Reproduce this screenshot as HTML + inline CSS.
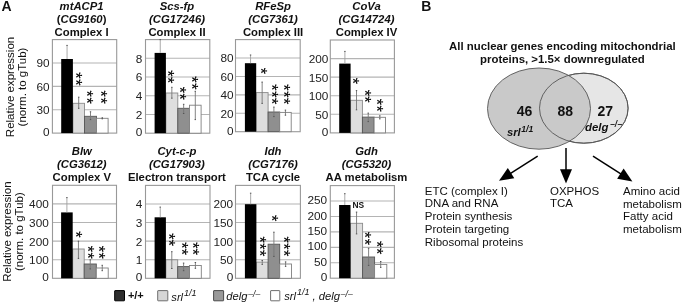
<!DOCTYPE html><html><head><meta charset="utf-8"><style>html,body{margin:0;padding:0;background:#fff;}svg{display:block;filter:grayscale(1);}</style></head><body>
<svg width="685" height="304" viewBox="0 0 685 304" style="font-family:'Liberation Sans', sans-serif">
<rect width="685" height="304" fill="#fff"/>
<text x="1.6" y="11.3" font-size="14" font-weight="bold" fill="#111">A</text>
<text x="421.3" y="11.4" font-size="14" font-weight="bold" fill="#111">B</text>
<text x="81.6" y="10.3" font-size="11.3" font-weight="bold" font-style="italic" text-anchor="middle" fill="#111">mtACP1</text>
<text x="81.6" y="23.4" font-size="11.3" font-weight="bold" text-anchor="middle" fill="#111">(<tspan font-style="italic">CG9160</tspan>)</text>
<text x="81.6" y="36.4" font-size="11.3" font-weight="bold" text-anchor="middle" fill="#111">Complex I</text>
<text x="177" y="10.3" font-size="11.3" font-weight="bold" font-style="italic" text-anchor="middle" fill="#111">Scs-fp</text>
<text x="177" y="23.4" font-size="11.3" font-weight="bold" font-style="italic" text-anchor="middle" fill="#111">(CG17246)</text>
<text x="177" y="36.4" font-size="11.3" font-weight="bold" text-anchor="middle" fill="#111">Complex II</text>
<text x="273.1" y="10.3" font-size="11.3" font-weight="bold" font-style="italic" text-anchor="middle" fill="#111">RFeSp</text>
<text x="273.1" y="23.4" font-size="11.3" font-weight="bold" font-style="italic" text-anchor="middle" fill="#111">(CG7361)</text>
<text x="273.1" y="36.4" font-size="11.3" font-weight="bold" text-anchor="middle" fill="#111">Complex III</text>
<text x="366.5" y="10.3" font-size="11.3" font-weight="bold" font-style="italic" text-anchor="middle" fill="#111">CoVa</text>
<text x="366.5" y="23.4" font-size="11.3" font-weight="bold" font-style="italic" text-anchor="middle" fill="#111">(CG14724)</text>
<text x="366.5" y="36.4" font-size="11.3" font-weight="bold" text-anchor="middle" fill="#111">Complex IV</text>
<text x="81.8" y="154.9" font-size="11.3" font-weight="bold" font-style="italic" text-anchor="middle" fill="#111">Blw</text>
<text x="81.8" y="168" font-size="11.3" font-weight="bold" font-style="italic" text-anchor="middle" fill="#111">(CG3612)</text>
<text x="81.8" y="181.2" font-size="11.3" font-weight="bold" text-anchor="middle" fill="#111">Complex V</text>
<text x="176.9" y="154.9" font-size="11.3" font-weight="bold" font-style="italic" text-anchor="middle" fill="#111">Cyt-c-p</text>
<text x="176.9" y="168" font-size="11.3" font-weight="bold" font-style="italic" text-anchor="middle" fill="#111">(CG17903)</text>
<text x="176.9" y="181.2" font-size="11.3" font-weight="bold" text-anchor="middle" fill="#111">Electron transport</text>
<text x="273" y="154.9" font-size="11.3" font-weight="bold" font-style="italic" text-anchor="middle" fill="#111">Idh</text>
<text x="273" y="168" font-size="11.3" font-weight="bold" font-style="italic" text-anchor="middle" fill="#111">(CG7176)</text>
<text x="273" y="181.2" font-size="11.3" font-weight="bold" text-anchor="middle" fill="#111">TCA cycle</text>
<text x="366.5" y="154.9" font-size="11.3" font-weight="bold" font-style="italic" text-anchor="middle" fill="#111">Gdh</text>
<text x="366.5" y="168" font-size="11.3" font-weight="bold" font-style="italic" text-anchor="middle" fill="#111">(CG5320)</text>
<text x="366.5" y="181.2" font-size="11.3" font-weight="bold" text-anchor="middle" fill="#111">AA metabolism</text>
<text x="13.6" y="87" font-size="11.5" text-anchor="middle" fill="#111" transform="rotate(-90 13.6 87)">Relative expression</text>
<text x="26.2" y="87" font-size="11.5" text-anchor="middle" fill="#111" transform="rotate(-90 26.2 87)">(norm. to gTub)</text>
<text x="10.8" y="231.6" font-size="11.5" text-anchor="middle" fill="#111" transform="rotate(-90 10.8 231.6)">Relative expression</text>
<text x="23.3" y="231.6" font-size="11.5" text-anchor="middle" fill="#111" transform="rotate(-90 23.3 231.6)">(norm. to gTub)</text>
<line x1="52.4" y1="109.72" x2="116.7" y2="109.72" stroke="#b4b4b4" stroke-width="1.1"/>
<line x1="52.4" y1="86.35" x2="116.7" y2="86.35" stroke="#b4b4b4" stroke-width="1.1"/>
<line x1="52.4" y1="62.97" x2="116.7" y2="62.97" stroke="#b4b4b4" stroke-width="1.1"/>
<rect x="52.4" y="39.6" width="64.3" height="93.5" fill="none" stroke="#999" stroke-width="1.1"/>
<rect x="72.9" y="103.3" width="11.6" height="29.8" fill="#dedede" stroke="#8a8a8a" stroke-width="0.9"/>
<rect x="84.5" y="116.3" width="12" height="16.8" fill="#8f8f8f" stroke="#555555" stroke-width="0.9"/>
<rect x="96.5" y="118.3" width="11.6" height="14.8" fill="#ffffff" stroke="#808080" stroke-width="0.9"/>
<rect x="61.2" y="59" width="11.7" height="74.1" fill="#000"/>
<line x1="67.05" y1="45.4" x2="67.05" y2="59" stroke="#a0a0a0" stroke-width="0.9"/>
<line x1="66.35" y1="45.4" x2="67.75" y2="45.4" stroke="#555" stroke-width="1"/>
<line x1="78.7" y1="97.2" x2="78.7" y2="108.3" stroke="#777" stroke-width="0.9"/>
<line x1="78" y1="97.2" x2="79.4" y2="97.2" stroke="#555" stroke-width="1"/>
<line x1="78" y1="108.3" x2="79.4" y2="108.3" stroke="#555" stroke-width="1"/>
<line x1="90.5" y1="111.8" x2="90.5" y2="119.6" stroke="#777" stroke-width="0.9"/>
<line x1="89.8" y1="111.8" x2="91.2" y2="111.8" stroke="#555" stroke-width="1"/>
<line x1="89.8" y1="119.6" x2="91.2" y2="119.6" stroke="#555" stroke-width="1"/>
<line x1="102.3" y1="117.8" x2="102.3" y2="118.8" stroke="#777" stroke-width="0.9"/>
<line x1="101.6" y1="117.8" x2="103" y2="117.8" stroke="#555" stroke-width="1"/>
<line x1="101.6" y1="118.8" x2="103" y2="118.8" stroke="#555" stroke-width="1"/>
<text x="49.6" y="135.95" font-size="11.8" text-anchor="end" fill="#222">0</text>
<text x="49.6" y="114.17" font-size="11.8" text-anchor="end" fill="#222">30</text>
<text x="49.6" y="90.8" font-size="11.8" text-anchor="end" fill="#222">60</text>
<text x="49.6" y="67.42" font-size="11.8" text-anchor="end" fill="#222">90</text>
<text x="75.5" y="-70.48" font-size="16.2" text-anchor="middle" fill="#000" stroke="#000" stroke-width="0.15" transform="rotate(90)">*</text>
<text x="82.4" y="-70.48" font-size="16.2" text-anchor="middle" fill="#000" stroke="#000" stroke-width="0.15" transform="rotate(90)">*</text>
<text x="93.7" y="-81.38" font-size="16.2" text-anchor="middle" fill="#000" stroke="#000" stroke-width="0.15" transform="rotate(90)">*</text>
<text x="100.6" y="-81.38" font-size="16.2" text-anchor="middle" fill="#000" stroke="#000" stroke-width="0.15" transform="rotate(90)">*</text>
<text x="93.7" y="-94.58" font-size="16.2" text-anchor="middle" fill="#000" stroke="#000" stroke-width="0.15" transform="rotate(90)">*</text>
<text x="100.6" y="-94.58" font-size="16.2" text-anchor="middle" fill="#000" stroke="#000" stroke-width="0.15" transform="rotate(90)">*</text>
<line x1="145.5" y1="114.48" x2="209.8" y2="114.48" stroke="#b4b4b4" stroke-width="1.1"/>
<line x1="145.5" y1="95.76" x2="209.8" y2="95.76" stroke="#b4b4b4" stroke-width="1.1"/>
<line x1="145.5" y1="77.04" x2="209.8" y2="77.04" stroke="#b4b4b4" stroke-width="1.1"/>
<line x1="145.5" y1="58.32" x2="209.8" y2="58.32" stroke="#b4b4b4" stroke-width="1.1"/>
<rect x="145.5" y="39.6" width="64.3" height="93.6" fill="none" stroke="#999" stroke-width="1.1"/>
<rect x="165.9" y="93" width="11.9" height="40.2" fill="#dedede" stroke="#8a8a8a" stroke-width="0.9"/>
<rect x="177.8" y="108.3" width="11.7" height="24.9" fill="#8f8f8f" stroke="#555555" stroke-width="0.9"/>
<rect x="189.5" y="105.2" width="11.6" height="28" fill="#ffffff" stroke="#808080" stroke-width="0.9"/>
<rect x="154.6" y="52.9" width="11.3" height="80.3" fill="#000"/>
<line x1="160.25" y1="39.6" x2="160.25" y2="52.9" stroke="#a0a0a0" stroke-width="0.9"/>
<line x1="159.55" y1="39.6" x2="160.95" y2="39.6" stroke="#555" stroke-width="1"/>
<line x1="171.85" y1="87.3" x2="171.85" y2="98.2" stroke="#777" stroke-width="0.9"/>
<line x1="171.15" y1="87.3" x2="172.55" y2="87.3" stroke="#555" stroke-width="1"/>
<line x1="171.15" y1="98.2" x2="172.55" y2="98.2" stroke="#555" stroke-width="1"/>
<line x1="183.65" y1="104.3" x2="183.65" y2="113.5" stroke="#777" stroke-width="0.9"/>
<line x1="182.95" y1="104.3" x2="184.35" y2="104.3" stroke="#555" stroke-width="1"/>
<line x1="182.95" y1="113.5" x2="184.35" y2="113.5" stroke="#555" stroke-width="1"/>
<line x1="195.3" y1="91.3" x2="195.3" y2="119.6" stroke="#777" stroke-width="0.9"/>
<line x1="194.6" y1="91.3" x2="196" y2="91.3" stroke="#555" stroke-width="1"/>
<line x1="194.6" y1="119.6" x2="196" y2="119.6" stroke="#555" stroke-width="1"/>
<text x="142.4" y="136.05" font-size="11.8" text-anchor="end" fill="#222">0</text>
<text x="142.4" y="118.93" font-size="11.8" text-anchor="end" fill="#222">2</text>
<text x="142.4" y="100.21" font-size="11.8" text-anchor="end" fill="#222">4</text>
<text x="142.4" y="81.49" font-size="11.8" text-anchor="end" fill="#222">6</text>
<text x="142.4" y="62.77" font-size="11.8" text-anchor="end" fill="#222">8</text>
<text x="73.5" y="-162.38" font-size="16.2" text-anchor="middle" fill="#000" stroke="#000" stroke-width="0.15" transform="rotate(90)">*</text>
<text x="80.1" y="-162.38" font-size="16.2" text-anchor="middle" fill="#000" stroke="#000" stroke-width="0.15" transform="rotate(90)">*</text>
<text x="89.8" y="-173.68" font-size="16.2" text-anchor="middle" fill="#000" stroke="#000" stroke-width="0.15" transform="rotate(90)">*</text>
<text x="96.7" y="-173.68" font-size="16.2" text-anchor="middle" fill="#000" stroke="#000" stroke-width="0.15" transform="rotate(90)">*</text>
<text x="79.4" y="-185.78" font-size="16.2" text-anchor="middle" fill="#000" stroke="#000" stroke-width="0.15" transform="rotate(90)">*</text>
<text x="86.5" y="-185.78" font-size="16.2" text-anchor="middle" fill="#000" stroke="#000" stroke-width="0.15" transform="rotate(90)">*</text>
<line x1="235.5" y1="113.28" x2="300.2" y2="113.28" stroke="#b4b4b4" stroke-width="1.1"/>
<line x1="235.5" y1="94.86" x2="300.2" y2="94.86" stroke="#b4b4b4" stroke-width="1.1"/>
<line x1="235.5" y1="76.44" x2="300.2" y2="76.44" stroke="#b4b4b4" stroke-width="1.1"/>
<line x1="235.5" y1="58.02" x2="300.2" y2="58.02" stroke="#b4b4b4" stroke-width="1.1"/>
<rect x="235.5" y="39.6" width="64.7" height="92.1" fill="none" stroke="#999" stroke-width="1.1"/>
<rect x="256.2" y="92.6" width="11.9" height="39.1" fill="#dedede" stroke="#8a8a8a" stroke-width="0.9"/>
<rect x="268.1" y="112" width="11.6" height="19.7" fill="#8f8f8f" stroke="#555555" stroke-width="0.9"/>
<rect x="279.7" y="112.4" width="11.5" height="19.3" fill="#ffffff" stroke="#808080" stroke-width="0.9"/>
<rect x="244.9" y="63.2" width="11.3" height="68.5" fill="#000"/>
<line x1="250.55" y1="55" x2="250.55" y2="63.2" stroke="#a0a0a0" stroke-width="0.9"/>
<line x1="249.85" y1="55" x2="251.25" y2="55" stroke="#555" stroke-width="1"/>
<line x1="262.15" y1="82.1" x2="262.15" y2="103.4" stroke="#777" stroke-width="0.9"/>
<line x1="261.45" y1="82.1" x2="262.85" y2="82.1" stroke="#555" stroke-width="1"/>
<line x1="261.45" y1="103.4" x2="262.85" y2="103.4" stroke="#555" stroke-width="1"/>
<line x1="273.9" y1="107.1" x2="273.9" y2="116.6" stroke="#777" stroke-width="0.9"/>
<line x1="273.2" y1="107.1" x2="274.6" y2="107.1" stroke="#555" stroke-width="1"/>
<line x1="273.2" y1="116.6" x2="274.6" y2="116.6" stroke="#555" stroke-width="1"/>
<line x1="285.45" y1="110.1" x2="285.45" y2="115.2" stroke="#777" stroke-width="0.9"/>
<line x1="284.75" y1="110.1" x2="286.15" y2="110.1" stroke="#555" stroke-width="1"/>
<line x1="284.75" y1="115.2" x2="286.15" y2="115.2" stroke="#555" stroke-width="1"/>
<text x="233.6" y="134.55" font-size="11.8" text-anchor="end" fill="#222">0</text>
<text x="233.6" y="117.73" font-size="11.8" text-anchor="end" fill="#222">20</text>
<text x="233.6" y="99.31" font-size="11.8" text-anchor="end" fill="#222">40</text>
<text x="233.6" y="80.89" font-size="11.8" text-anchor="end" fill="#222">60</text>
<text x="233.6" y="62.47" font-size="11.8" text-anchor="end" fill="#222">80</text>
<text x="70.9" y="-254.68" font-size="16.2" text-anchor="middle" fill="#000" stroke="#000" stroke-width="0.15" transform="rotate(90)">*</text>
<text x="87.5" y="-266.08" font-size="16.2" text-anchor="middle" fill="#000" stroke="#000" stroke-width="0.15" transform="rotate(90)">*</text>
<text x="94.4" y="-266.08" font-size="16.2" text-anchor="middle" fill="#000" stroke="#000" stroke-width="0.15" transform="rotate(90)">*</text>
<text x="101.1" y="-266.08" font-size="16.2" text-anchor="middle" fill="#000" stroke="#000" stroke-width="0.15" transform="rotate(90)">*</text>
<text x="87.5" y="-278.28" font-size="16.2" text-anchor="middle" fill="#000" stroke="#000" stroke-width="0.15" transform="rotate(90)">*</text>
<text x="94.4" y="-278.28" font-size="16.2" text-anchor="middle" fill="#000" stroke="#000" stroke-width="0.15" transform="rotate(90)">*</text>
<text x="101.1" y="-278.28" font-size="16.2" text-anchor="middle" fill="#000" stroke="#000" stroke-width="0.15" transform="rotate(90)">*</text>
<line x1="330.3" y1="114.32" x2="394.4" y2="114.32" stroke="#b4b4b4" stroke-width="1.1"/>
<line x1="330.3" y1="95.74" x2="394.4" y2="95.74" stroke="#b4b4b4" stroke-width="1.1"/>
<line x1="330.3" y1="77.16" x2="394.4" y2="77.16" stroke="#b4b4b4" stroke-width="1.1"/>
<line x1="330.3" y1="58.58" x2="394.4" y2="58.58" stroke="#b4b4b4" stroke-width="1.1"/>
<rect x="330.3" y="40" width="64.1" height="92.9" fill="none" stroke="#999" stroke-width="1.1"/>
<rect x="350.6" y="100.3" width="11.8" height="32.6" fill="#dedede" stroke="#8a8a8a" stroke-width="0.9"/>
<rect x="362.4" y="117.1" width="11.7" height="15.8" fill="#8f8f8f" stroke="#555555" stroke-width="0.9"/>
<rect x="374.1" y="117.3" width="11.4" height="15.6" fill="#ffffff" stroke="#808080" stroke-width="0.9"/>
<rect x="339.2" y="63.6" width="11.4" height="69.3" fill="#000"/>
<line x1="344.9" y1="51.4" x2="344.9" y2="63.6" stroke="#a0a0a0" stroke-width="0.9"/>
<line x1="344.2" y1="51.4" x2="345.6" y2="51.4" stroke="#555" stroke-width="1"/>
<line x1="356.5" y1="90.6" x2="356.5" y2="109.8" stroke="#777" stroke-width="0.9"/>
<line x1="355.8" y1="90.6" x2="357.2" y2="90.6" stroke="#555" stroke-width="1"/>
<line x1="355.8" y1="109.8" x2="357.2" y2="109.8" stroke="#555" stroke-width="1"/>
<line x1="368.25" y1="113.1" x2="368.25" y2="121.6" stroke="#777" stroke-width="0.9"/>
<line x1="367.55" y1="113.1" x2="368.95" y2="113.1" stroke="#555" stroke-width="1"/>
<line x1="367.55" y1="121.6" x2="368.95" y2="121.6" stroke="#555" stroke-width="1"/>
<line x1="379.8" y1="115.8" x2="379.8" y2="118.9" stroke="#777" stroke-width="0.9"/>
<line x1="379.1" y1="115.8" x2="380.5" y2="115.8" stroke="#555" stroke-width="1"/>
<line x1="379.1" y1="118.9" x2="380.5" y2="118.9" stroke="#555" stroke-width="1"/>
<text x="328.4" y="135.75" font-size="11.8" text-anchor="end" fill="#222">0</text>
<text x="328.4" y="118.77" font-size="11.8" text-anchor="end" fill="#222">50</text>
<text x="328.4" y="100.19" font-size="11.8" text-anchor="end" fill="#222">100</text>
<text x="328.4" y="81.61" font-size="11.8" text-anchor="end" fill="#222">150</text>
<text x="328.4" y="63.03" font-size="11.8" text-anchor="end" fill="#222">200</text>
<text x="81" y="-347.28" font-size="16.2" text-anchor="middle" fill="#000" stroke="#000" stroke-width="0.15" transform="rotate(90)">*</text>
<text x="92.8" y="-358.88" font-size="16.2" text-anchor="middle" fill="#000" stroke="#000" stroke-width="0.15" transform="rotate(90)">*</text>
<text x="99.3" y="-358.88" font-size="16.2" text-anchor="middle" fill="#000" stroke="#000" stroke-width="0.15" transform="rotate(90)">*</text>
<text x="102" y="-370.68" font-size="16.2" text-anchor="middle" fill="#000" stroke="#000" stroke-width="0.15" transform="rotate(90)">*</text>
<text x="108.6" y="-370.68" font-size="16.2" text-anchor="middle" fill="#000" stroke="#000" stroke-width="0.15" transform="rotate(90)">*</text>
<line x1="52.5" y1="259.7" x2="116.5" y2="259.7" stroke="#b4b4b4" stroke-width="1.1"/>
<line x1="52.5" y1="241.1" x2="116.5" y2="241.1" stroke="#b4b4b4" stroke-width="1.1"/>
<line x1="52.5" y1="222.5" x2="116.5" y2="222.5" stroke="#b4b4b4" stroke-width="1.1"/>
<line x1="52.5" y1="203.9" x2="116.5" y2="203.9" stroke="#b4b4b4" stroke-width="1.1"/>
<rect x="52.5" y="185.3" width="64" height="93" fill="none" stroke="#999" stroke-width="1.1"/>
<rect x="72.7" y="249" width="11.5" height="29.3" fill="#dedede" stroke="#8a8a8a" stroke-width="0.9"/>
<rect x="84.2" y="264" width="12.1" height="14.3" fill="#8f8f8f" stroke="#555555" stroke-width="0.9"/>
<rect x="96.3" y="268" width="11.9" height="10.3" fill="#ffffff" stroke="#808080" stroke-width="0.9"/>
<rect x="61.1" y="212.4" width="11.6" height="65.9" fill="#000"/>
<line x1="66.9" y1="197.6" x2="66.9" y2="212.4" stroke="#a0a0a0" stroke-width="0.9"/>
<line x1="66.2" y1="197.6" x2="67.6" y2="197.6" stroke="#555" stroke-width="1"/>
<line x1="78.45" y1="241.2" x2="78.45" y2="258.4" stroke="#777" stroke-width="0.9"/>
<line x1="77.75" y1="241.2" x2="79.15" y2="241.2" stroke="#555" stroke-width="1"/>
<line x1="77.75" y1="258.4" x2="79.15" y2="258.4" stroke="#555" stroke-width="1"/>
<line x1="90.25" y1="259.8" x2="90.25" y2="268.9" stroke="#777" stroke-width="0.9"/>
<line x1="89.55" y1="259.8" x2="90.95" y2="259.8" stroke="#555" stroke-width="1"/>
<line x1="89.55" y1="268.9" x2="90.95" y2="268.9" stroke="#555" stroke-width="1"/>
<line x1="102.25" y1="265.3" x2="102.25" y2="270.7" stroke="#777" stroke-width="0.9"/>
<line x1="101.55" y1="265.3" x2="102.95" y2="265.3" stroke="#555" stroke-width="1"/>
<line x1="101.55" y1="270.7" x2="102.95" y2="270.7" stroke="#555" stroke-width="1"/>
<text x="48.8" y="281.15" font-size="11.8" text-anchor="end" fill="#222">0</text>
<text x="48.8" y="264.15" font-size="11.8" text-anchor="end" fill="#222">100</text>
<text x="48.8" y="245.55" font-size="11.8" text-anchor="end" fill="#222">200</text>
<text x="48.8" y="226.95" font-size="11.8" text-anchor="end" fill="#222">300</text>
<text x="48.8" y="208.35" font-size="11.8" text-anchor="end" fill="#222">400</text>
<text x="234.5" y="-69.88" font-size="16.2" text-anchor="middle" fill="#000" stroke="#000" stroke-width="0.15" transform="rotate(90)">*</text>
<text x="249" y="-82.48" font-size="16.2" text-anchor="middle" fill="#000" stroke="#000" stroke-width="0.15" transform="rotate(90)">*</text>
<text x="255.7" y="-82.48" font-size="16.2" text-anchor="middle" fill="#000" stroke="#000" stroke-width="0.15" transform="rotate(90)">*</text>
<text x="249" y="-93.38" font-size="16.2" text-anchor="middle" fill="#000" stroke="#000" stroke-width="0.15" transform="rotate(90)">*</text>
<text x="255.7" y="-93.38" font-size="16.2" text-anchor="middle" fill="#000" stroke="#000" stroke-width="0.15" transform="rotate(90)">*</text>
<line x1="145.5" y1="259.72" x2="210" y2="259.72" stroke="#b4b4b4" stroke-width="1.1"/>
<line x1="145.5" y1="241.14" x2="210" y2="241.14" stroke="#b4b4b4" stroke-width="1.1"/>
<line x1="145.5" y1="222.56" x2="210" y2="222.56" stroke="#b4b4b4" stroke-width="1.1"/>
<line x1="145.5" y1="203.98" x2="210" y2="203.98" stroke="#b4b4b4" stroke-width="1.1"/>
<rect x="145.5" y="185.4" width="64.5" height="92.9" fill="none" stroke="#999" stroke-width="1.1"/>
<rect x="165.9" y="259.8" width="11.8" height="18.5" fill="#dedede" stroke="#8a8a8a" stroke-width="0.9"/>
<rect x="177.7" y="266.6" width="11.8" height="11.7" fill="#8f8f8f" stroke="#555555" stroke-width="0.9"/>
<rect x="189.5" y="265.5" width="11.8" height="12.8" fill="#ffffff" stroke="#808080" stroke-width="0.9"/>
<rect x="154.6" y="217.3" width="11.3" height="61" fill="#000"/>
<line x1="160.25" y1="207.1" x2="160.25" y2="217.3" stroke="#a0a0a0" stroke-width="0.9"/>
<line x1="159.55" y1="207.1" x2="160.95" y2="207.1" stroke="#555" stroke-width="1"/>
<line x1="171.8" y1="251.7" x2="171.8" y2="268.5" stroke="#777" stroke-width="0.9"/>
<line x1="171.1" y1="251.7" x2="172.5" y2="251.7" stroke="#555" stroke-width="1"/>
<line x1="171.1" y1="268.5" x2="172.5" y2="268.5" stroke="#555" stroke-width="1"/>
<line x1="183.6" y1="263.1" x2="183.6" y2="270.7" stroke="#777" stroke-width="0.9"/>
<line x1="182.9" y1="263.1" x2="184.3" y2="263.1" stroke="#555" stroke-width="1"/>
<line x1="182.9" y1="270.7" x2="184.3" y2="270.7" stroke="#555" stroke-width="1"/>
<line x1="195.4" y1="262.5" x2="195.4" y2="268.3" stroke="#777" stroke-width="0.9"/>
<line x1="194.7" y1="262.5" x2="196.1" y2="262.5" stroke="#555" stroke-width="1"/>
<line x1="194.7" y1="268.3" x2="196.1" y2="268.3" stroke="#555" stroke-width="1"/>
<text x="142.2" y="281.15" font-size="11.8" text-anchor="end" fill="#222">0</text>
<text x="142.2" y="264.17" font-size="11.8" text-anchor="end" fill="#222">1</text>
<text x="142.2" y="245.59" font-size="11.8" text-anchor="end" fill="#222">2</text>
<text x="142.2" y="227.01" font-size="11.8" text-anchor="end" fill="#222">3</text>
<text x="142.2" y="208.43" font-size="11.8" text-anchor="end" fill="#222">4</text>
<text x="236.3" y="-162.68" font-size="16.2" text-anchor="middle" fill="#000" stroke="#000" stroke-width="0.15" transform="rotate(90)">*</text>
<text x="243" y="-162.68" font-size="16.2" text-anchor="middle" fill="#000" stroke="#000" stroke-width="0.15" transform="rotate(90)">*</text>
<text x="245.4" y="-175.68" font-size="16.2" text-anchor="middle" fill="#000" stroke="#000" stroke-width="0.15" transform="rotate(90)">*</text>
<text x="252" y="-175.68" font-size="16.2" text-anchor="middle" fill="#000" stroke="#000" stroke-width="0.15" transform="rotate(90)">*</text>
<text x="245.4" y="-187.48" font-size="16.2" text-anchor="middle" fill="#000" stroke="#000" stroke-width="0.15" transform="rotate(90)">*</text>
<text x="252" y="-187.48" font-size="16.2" text-anchor="middle" fill="#000" stroke="#000" stroke-width="0.15" transform="rotate(90)">*</text>
<line x1="235.5" y1="259.72" x2="300.4" y2="259.72" stroke="#b4b4b4" stroke-width="1.1"/>
<line x1="235.5" y1="241.14" x2="300.4" y2="241.14" stroke="#b4b4b4" stroke-width="1.1"/>
<line x1="235.5" y1="222.56" x2="300.4" y2="222.56" stroke="#b4b4b4" stroke-width="1.1"/>
<line x1="235.5" y1="203.98" x2="300.4" y2="203.98" stroke="#b4b4b4" stroke-width="1.1"/>
<rect x="235.5" y="185.4" width="64.9" height="92.9" fill="none" stroke="#999" stroke-width="1.1"/>
<rect x="256.4" y="262.1" width="11.7" height="16.2" fill="#dedede" stroke="#8a8a8a" stroke-width="0.9"/>
<rect x="268.1" y="244.2" width="11.6" height="34.1" fill="#8f8f8f" stroke="#555555" stroke-width="0.9"/>
<rect x="279.7" y="264" width="11.8" height="14.3" fill="#ffffff" stroke="#808080" stroke-width="0.9"/>
<rect x="244.9" y="204.2" width="11.5" height="74.1" fill="#000"/>
<line x1="250.65" y1="193.2" x2="250.65" y2="204.2" stroke="#a0a0a0" stroke-width="0.9"/>
<line x1="249.95" y1="193.2" x2="251.35" y2="193.2" stroke="#555" stroke-width="1"/>
<line x1="262.25" y1="260.5" x2="262.25" y2="264.4" stroke="#777" stroke-width="0.9"/>
<line x1="261.55" y1="260.5" x2="262.95" y2="260.5" stroke="#555" stroke-width="1"/>
<line x1="261.55" y1="264.4" x2="262.95" y2="264.4" stroke="#555" stroke-width="1"/>
<line x1="273.9" y1="232.2" x2="273.9" y2="256.4" stroke="#777" stroke-width="0.9"/>
<line x1="273.2" y1="232.2" x2="274.6" y2="232.2" stroke="#555" stroke-width="1"/>
<line x1="273.2" y1="256.4" x2="274.6" y2="256.4" stroke="#555" stroke-width="1"/>
<line x1="285.6" y1="261.9" x2="285.6" y2="266.4" stroke="#777" stroke-width="0.9"/>
<line x1="284.9" y1="261.9" x2="286.3" y2="261.9" stroke="#555" stroke-width="1"/>
<line x1="284.9" y1="266.4" x2="286.3" y2="266.4" stroke="#555" stroke-width="1"/>
<text x="233.2" y="281.15" font-size="11.8" text-anchor="end" fill="#222">0</text>
<text x="233.2" y="264.17" font-size="11.8" text-anchor="end" fill="#222">50</text>
<text x="233.2" y="245.59" font-size="11.8" text-anchor="end" fill="#222">100</text>
<text x="233.2" y="227.01" font-size="11.8" text-anchor="end" fill="#222">150</text>
<text x="233.2" y="208.43" font-size="11.8" text-anchor="end" fill="#222">200</text>
<text x="239.7" y="-254.08" font-size="16.2" text-anchor="middle" fill="#000" stroke="#000" stroke-width="0.15" transform="rotate(90)">*</text>
<text x="246.5" y="-254.08" font-size="16.2" text-anchor="middle" fill="#000" stroke="#000" stroke-width="0.15" transform="rotate(90)">*</text>
<text x="253.2" y="-254.08" font-size="16.2" text-anchor="middle" fill="#000" stroke="#000" stroke-width="0.15" transform="rotate(90)">*</text>
<text x="218.2" y="-265.98" font-size="16.2" text-anchor="middle" fill="#000" stroke="#000" stroke-width="0.15" transform="rotate(90)">*</text>
<text x="239.7" y="-277.68" font-size="16.2" text-anchor="middle" fill="#000" stroke="#000" stroke-width="0.15" transform="rotate(90)">*</text>
<text x="246.5" y="-277.68" font-size="16.2" text-anchor="middle" fill="#000" stroke="#000" stroke-width="0.15" transform="rotate(90)">*</text>
<text x="253.2" y="-277.68" font-size="16.2" text-anchor="middle" fill="#000" stroke="#000" stroke-width="0.15" transform="rotate(90)">*</text>
<line x1="330.3" y1="262.77" x2="394.4" y2="262.77" stroke="#b4b4b4" stroke-width="1.1"/>
<line x1="330.3" y1="247.33" x2="394.4" y2="247.33" stroke="#b4b4b4" stroke-width="1.1"/>
<line x1="330.3" y1="231.9" x2="394.4" y2="231.9" stroke="#b4b4b4" stroke-width="1.1"/>
<line x1="330.3" y1="216.47" x2="394.4" y2="216.47" stroke="#b4b4b4" stroke-width="1.1"/>
<line x1="330.3" y1="201.03" x2="394.4" y2="201.03" stroke="#b4b4b4" stroke-width="1.1"/>
<rect x="330.3" y="185.6" width="64.1" height="92.6" fill="none" stroke="#999" stroke-width="1.1"/>
<rect x="350.5" y="223.3" width="12.1" height="54.9" fill="#dedede" stroke="#8a8a8a" stroke-width="0.9"/>
<rect x="362.6" y="257" width="12" height="21.2" fill="#8f8f8f" stroke="#555555" stroke-width="0.9"/>
<rect x="374.6" y="264.4" width="12.2" height="13.8" fill="#ffffff" stroke="#808080" stroke-width="0.9"/>
<rect x="339.1" y="205" width="11.4" height="73.2" fill="#000"/>
<line x1="344.8" y1="193.7" x2="344.8" y2="205" stroke="#a0a0a0" stroke-width="0.9"/>
<line x1="344.1" y1="193.7" x2="345.5" y2="193.7" stroke="#555" stroke-width="1"/>
<line x1="356.55" y1="212.1" x2="356.55" y2="233.9" stroke="#777" stroke-width="0.9"/>
<line x1="355.85" y1="212.1" x2="357.25" y2="212.1" stroke="#555" stroke-width="1"/>
<line x1="355.85" y1="233.9" x2="357.25" y2="233.9" stroke="#555" stroke-width="1"/>
<line x1="368.6" y1="248.3" x2="368.6" y2="265.4" stroke="#777" stroke-width="0.9"/>
<line x1="367.9" y1="248.3" x2="369.3" y2="248.3" stroke="#555" stroke-width="1"/>
<line x1="367.9" y1="265.4" x2="369.3" y2="265.4" stroke="#555" stroke-width="1"/>
<line x1="380.7" y1="261.5" x2="380.7" y2="267.4" stroke="#777" stroke-width="0.9"/>
<line x1="380" y1="261.5" x2="381.4" y2="261.5" stroke="#555" stroke-width="1"/>
<line x1="380" y1="267.4" x2="381.4" y2="267.4" stroke="#555" stroke-width="1"/>
<text x="327.2" y="281.35" font-size="11.8" text-anchor="end" fill="#222">0</text>
<text x="327.2" y="265.91" font-size="11.8" text-anchor="end" fill="#222">50</text>
<text x="327.2" y="250.48" font-size="11.8" text-anchor="end" fill="#222">100</text>
<text x="327.2" y="235.05" font-size="11.8" text-anchor="end" fill="#222">150</text>
<text x="327.2" y="219.61" font-size="11.8" text-anchor="end" fill="#222">200</text>
<text x="327.2" y="204.18" font-size="11.8" text-anchor="end" fill="#222">250</text>
<text x="234.9" y="-359.08" font-size="16.2" text-anchor="middle" fill="#000" stroke="#000" stroke-width="0.15" transform="rotate(90)">*</text>
<text x="241.8" y="-359.08" font-size="16.2" text-anchor="middle" fill="#000" stroke="#000" stroke-width="0.15" transform="rotate(90)">*</text>
<text x="244.1" y="-370.98" font-size="16.2" text-anchor="middle" fill="#000" stroke="#000" stroke-width="0.15" transform="rotate(90)">*</text>
<text x="251.2" y="-370.98" font-size="16.2" text-anchor="middle" fill="#000" stroke="#000" stroke-width="0.15" transform="rotate(90)">*</text>
<text x="352.5" y="208.2" font-size="8.4" font-weight="bold" fill="#111">NS</text>
<rect x="114.7" y="290.6" width="9.8" height="10.2" rx="0.4" fill="#2e2e2e" stroke="#000" stroke-width="1"/>
<rect x="157.7" y="290.6" width="10.1" height="10.2" rx="0.4" fill="#d6d6d6" stroke="#6e6e6e" stroke-width="1"/>
<rect x="213.6" y="290.6" width="10" height="10.2" rx="0.4" fill="#999999" stroke="#4a4a4a" stroke-width="1"/>
<rect x="270.6" y="290.6" width="9.2" height="10.2" rx="0.4" fill="#ffffff" stroke="#6e6e6e" stroke-width="1"/>
<text x="127.9" y="299.3" font-size="11" font-weight="bold" fill="#111">+/+</text>
<text x="171.3" y="300.6" font-size="11.2" font-style="italic" fill="#111">srl<tspan font-size="9" dy="-5.0" dx="1.0">1/1</tspan></text>
<text x="226.3" y="300" font-size="11.2" font-style="italic" fill="#111">delg<tspan font-size="8.6" dy="-3.0" dx="0.8">–/–</tspan></text>
<text x="284.2" y="300.4" font-size="11.2" font-style="italic" fill="#111">srl<tspan font-size="9" dy="-5.0" dx="1.0">1/1</tspan><tspan dy="5.0"> , delg</tspan><tspan font-size="8.6" dy="-3.0" dx="0.8">–/–</tspan></text>
<text x="562.4" y="50" font-size="11.4" font-weight="bold" text-anchor="middle" fill="#111">All nuclear genes encoding mitochondrial</text>
<text x="562.4" y="62.6" font-size="11.4" font-weight="bold" text-anchor="middle" fill="#111">proteins, &gt;1.5× downregulated</text>
<ellipse cx="583.8" cy="108.2" rx="44.3" ry="35.0" fill="#e6e6e6" stroke="#555" stroke-width="0.9"/>
<ellipse cx="539.0" cy="108.6" rx="51.5" ry="40.6" fill="#c9c9c9" stroke="#555" stroke-width="0.9"/>
<ellipse cx="583.8" cy="108.2" rx="44.3" ry="35.0" fill="none" stroke="#555" stroke-width="0.9"/>
<text x="524.6" y="116" font-size="14" font-weight="bold" text-anchor="middle" fill="#111">46</text>
<text x="565.2" y="116" font-size="14" font-weight="bold" text-anchor="middle" fill="#111">88</text>
<text x="605.3" y="116" font-size="14" font-weight="bold" text-anchor="middle" fill="#111">27</text>
<text x="507.0" y="136.0" font-size="11.2" font-weight="bold" font-style="italic" fill="#111">srl<tspan font-size="8.6" dy="-3.6" dx="0.6">1/1</tspan></text>
<text x="585.0" y="131.2" font-size="11.4" font-weight="bold" font-style="italic" fill="#111">delg<tspan font-size="8.4" dy="-4.6" dx="1.4">−/−</tspan></text>
<line x1="537.7" y1="156.1" x2="510.21" y2="173.64" stroke="#000" stroke-width="1.5"/>
<polygon points="499,180.8 507.83,168.05 514.28,178.16" fill="#000"/>
<line x1="566" y1="147.9" x2="566" y2="170.3" stroke="#000" stroke-width="1.5"/>
<polygon points="566,183.6 560,169.3 572,169.3" fill="#000"/>
<line x1="593" y1="156.1" x2="621.21" y2="174.21" stroke="#000" stroke-width="1.5"/>
<polygon points="632.4,181.4 617.13,178.72 623.61,168.62" fill="#000"/>
<text x="424.8" y="194.7" font-size="11.5" fill="#111">ETC (complex I)</text>
<text x="424.8" y="207.45" font-size="11.5" fill="#111">DNA and RNA</text>
<text x="424.8" y="220.2" font-size="11.5" fill="#111">Protein synthesis</text>
<text x="424.8" y="232.95" font-size="11.5" fill="#111">Protein targeting</text>
<text x="424.8" y="245.7" font-size="11.5" fill="#111">Ribosomal proteins</text>
<text x="550" y="194.7" font-size="11.5" fill="#111">OXPHOS</text>
<text x="550" y="207.45" font-size="11.5" fill="#111">TCA</text>
<text x="623" y="194.8" font-size="11.5" fill="#111">Amino acid</text>
<text x="623" y="207.55" font-size="11.5" fill="#111">metabolism</text>
<text x="623" y="220.3" font-size="11.5" fill="#111">Fatty acid</text>
<text x="623" y="233.05" font-size="11.5" fill="#111">metabolism</text>
</svg></body></html>
